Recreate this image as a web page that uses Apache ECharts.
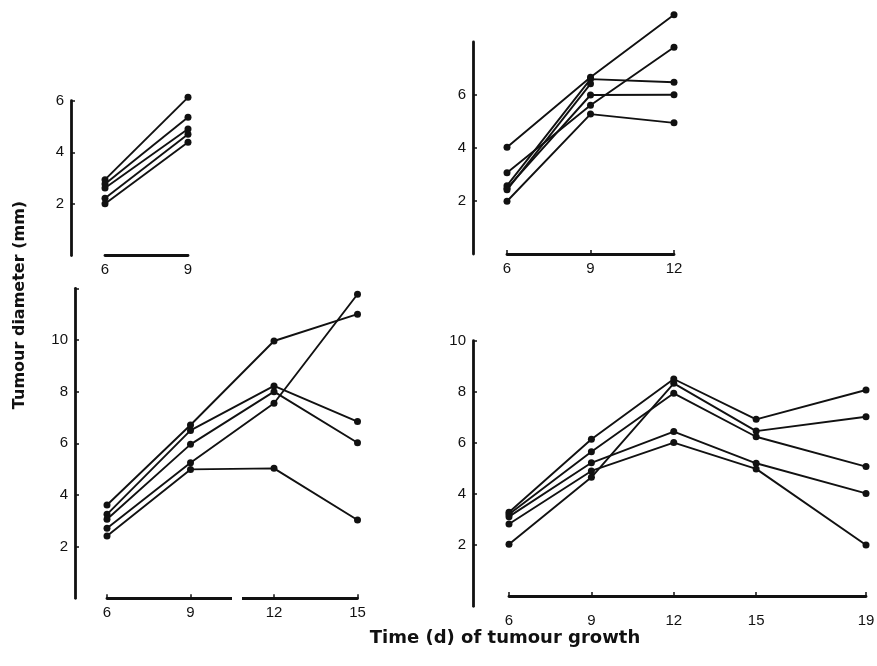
<!DOCTYPE html>
<html><head><meta charset="utf-8">
<script src="https://cdn.jsdelivr.net/npm/echarts@6/dist/echarts.min.js"></script>
<style>html,body{margin:0;padding:0;background:#fff}#c{width:877px;height:666px}</style>
</head><body><div id="c"></div>
<script>
// ---- data ----
const p1Days = [6, 9];
const p1Values = [[2.94, 6.13], [2.77, 5.36], [2.62, 4.90], [2.22, 4.70], [2.01, 4.39]];
const p1YTicks = [2, 4, 6];

const p2Days = [6, 9, 12];
const p2Values = [[4.03, 6.67, 9.03], [3.07, 5.61, 7.80], [2.58, 6.60, 6.48], [2.48, 6.00, 6.01], [1.99, 5.28, 4.95], [2.42, 6.42]];
const p2YTicks = [2, 4, 6];

const p3Days = [6, 9, 12, 15];
const p3Values = [[3.61, 6.71, 9.96, 11.00], [3.25, 6.50, 8.22, 6.84], [3.06, 5.96, 8.00, 6.02], [2.71, 5.25, 7.55, 11.77], [2.41, 4.99, 5.03, 3.03]];
const p3YTicks = [2, 4, 6, 8, 10];

const p4Days = [6, 9, 12, 15, 19];
const p4Values = [[3.28, 6.14, 8.50, 6.92, 8.07], [2.03, 4.65, 8.33, 6.46, 7.02], [3.20, 5.65, 7.94, 6.24, 5.07], [3.11, 5.22, 6.44, 5.20, 4.02], [2.82, 4.90, 6.01, 4.98, 2.00]];
const p4YTicks = [2, 4, 6, 8, 10];

const yTitle = 'Tumour diameter (mm)';
const xTitle = 'Time (d) of tumour growth';

// ---- layout ----
const INK = '#111';
const FONT = '"Liberation Sans", Arial, sans-serif';
const TFONT = '"DejaVu Sans", Verdana, sans-serif';
const panels = [
  {days: p1Days, values: p1Values, yTicks: p1YTicks, grid: {left: 105, top: 100.7, width: 83, height: 154.8}, yMin: 0, yMax: 6, off: 34, xTick: false},
  {days: p2Days, values: p2Values, yTicks: p2YTicks, grid: {left: 507, top: 42, width: 167, height: 212}, yMin: 0, yMax: 8, off: 34, xTick: true},
  {days: p3Days, values: p3Values, yTicks: p3YTicks, grid: {left: 107, top: 288.3, width: 250.5, height: 310}, yMin: 0, yMax: 12, off: 32, xTick: true, yCap: true},
  {days: p4Days, values: p4Values, yTicks: p4YTicks, grid: {left: 509, top: 340.7, width: 357, height: 265.6}, yMin: -0.4, yMax: 10, off: 36, xTick: true}
];

const grids = [], xAxes = [], yAxes = [], series = [];
panels.forEach((p, i) => {
  grids.push(Object.assign({containLabel: false, outerBoundsMode: 'none'}, p.grid));
  xAxes.push({
    type: 'value', gridIndex: i, min: p.days[0], max: p.days[p.days.length - 1],
    axisLine: {onZero: true, lineStyle: {color: INK, width: 2.8}},
    axisTick: {show: p.xTick, inside: true, length: 4, customValues: p.days, lineStyle: {color: INK, width: 1.5}},
    axisLabel: {customValues: p.days, color: INK, fontSize: 15, fontFamily: FONT, margin: 7},
    splitLine: {show: false}
  });
  const tickVals = p.yCap ? p.yTicks.concat([p.yMax]) : p.yTicks;
  yAxes.push({
    type: 'value', gridIndex: i, min: p.yMin, max: p.yMax, offset: p.off,
    axisLine: {show: true, onZero: false, lineStyle: {color: INK, width: 2.8}},
    axisTick: {show: true, inside: true, length: 4, customValues: tickVals, lineStyle: {color: INK, width: 1.5}},
    axisLabel: {customValues: p.yTicks, color: INK, fontSize: 15, fontFamily: FONT, margin: 7},
    splitLine: {show: false}
  });
  p.values.forEach(vals => {
    series.push({
      type: 'line', xAxisIndex: i, yAxisIndex: i, clip: false,
      data: vals.map((v, k) => [p.days[k], v]),
      symbol: 'circle', symbolSize: 7,
      itemStyle: {color: INK}, lineStyle: {color: INK, width: 1.9},
      animation: false, silent: true
    });
  });
});

const chart = echarts.init(document.getElementById('c'), null, {renderer: 'canvas'});
chart.setOption({
  backgroundColor: '#fff',
  animation: false,
  grid: grids, xAxis: xAxes, yAxis: yAxes, series: series,
  graphic: [
    {type: 'text', id: 'yt', silent: true, x: 20, y: 305, rotation: Math.PI / 2,
     style: {text: yTitle, fill: INK, font: 'bold 16px ' + TFONT, align: 'center', verticalAlign: 'middle'}},
    {type: 'text', id: 'xt', silent: true, x: 505, y: 638,
     style: {text: xTitle, fill: INK, font: 'bold 18px ' + TFONT, align: 'center', verticalAlign: 'middle'}}
  ]
});
// gap in the x-axis line of the lower-left panel
const a = chart.convertToPixel({xAxisIndex: 2}, 10.49);
const b = chart.convertToPixel({xAxisIndex: 2}, 10.85);
const y0 = chart.convertToPixel({yAxisIndex: 2}, 0);
chart.setOption({graphic: [{type: 'rect', id: 'gap', silent: true, z: 100, shape: {x: a, y: y0 - 4, width: b - a, height: 8}, style: {fill: '#fff'}}]});
</script></body></html>
